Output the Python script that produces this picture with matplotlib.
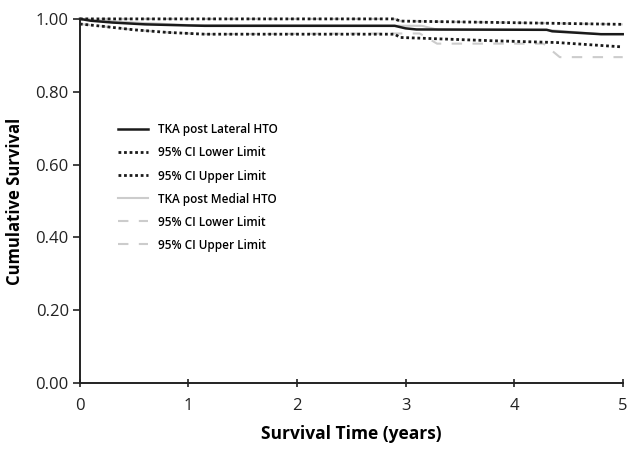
import matplotlib
matplotlib.use("Agg")
import matplotlib.pyplot as plt
from matplotlib.lines import Line2D

plt.rcParams['font.family'] = ['Open Sans', 'DejaVu Sans']

# Data (time in years, cumulative survival)
lat_t = [0.0, 0.1, 0.3, 0.6, 1.0, 1.15, 2.9, 3.0, 3.1, 4.3, 4.35, 4.8, 5.0]
lat_s = [1.000, 0.995, 0.990, 0.985, 0.982, 0.981, 0.981, 0.974, 0.971, 0.970, 0.966, 0.958, 0.958]

lat_lo_t = [0.0, 0.2, 0.5, 0.8, 1.15, 2.9, 2.95, 3.8, 4.4, 5.0]
lat_lo_s = [0.986, 0.980, 0.970, 0.963, 0.958, 0.958, 0.949, 0.940, 0.935, 0.923]

lat_hi_t = [0.0, 2.9, 2.95, 3.9, 5.0]
lat_hi_s = [1.000, 1.000, 0.994, 0.990, 0.985]

med_t = [0.0, 0.5, 1.0, 3.15, 3.3, 4.3, 4.8, 5.0]
med_s = [1.000, 0.990, 0.983, 0.981, 0.970, 0.970, 0.958, 0.958]

med_lo_t = [0.0, 0.2, 0.5, 0.8, 1.15, 3.0, 3.13, 3.29, 4.27, 4.42, 5.0]
med_lo_s = [0.986, 0.980, 0.970, 0.963, 0.958, 0.960, 0.960, 0.932, 0.932, 0.895, 0.895]

med_hi_t = [0.0, 2.9, 2.95, 3.9, 5.0]
med_hi_s = [1.000, 1.000, 0.994, 0.990, 0.985]

labels = ["TKA post Lateral HTO", "95% CI Lower Limit", "95% CI Upper Limit",
          "TKA post Medial HTO", "95% CI Lower Limit", "95% CI Upper Limit"]
x_ticks = [0, 1, 2, 3, 4, 5]
y_ticks = [0.0, 0.2, 0.4, 0.6, 0.8, 1.0]

fig = plt.figure(figsize=(6.29, 4.5), dpi=100)
ax = fig.add_axes([0.127, 0.149, 0.863, 0.809])

light = "#cccccc"
dark = "#1a1a1a"
dash = (0, (5, 5))
ax.plot(med_lo_t, med_lo_s, color=light, lw=1.5, ls=dash, clip_on=False)
ax.plot(med_hi_t, med_hi_s, color=light, lw=1.5, ls=dash, clip_on=False)
ax.plot(med_t, med_s, color=light, lw=1.5, clip_on=False)
ax.plot(lat_lo_t, lat_lo_s, color=dark, lw=2, ls=(0, (1, 1)), clip_on=False)
ax.plot(lat_hi_t, lat_hi_s, color=dark, lw=2, ls=(0, (1, 1)), clip_on=False)
ax.plot(lat_t, lat_s, color=dark, lw=1.8, clip_on=False)

ax.set_xlim(0, 5)
ax.set_ylim(0, 1.0)
ax.set_xticks(x_ticks)
ax.set_xticklabels([str(v) for v in x_ticks])
ax.set_yticks(y_ticks)
ax.set_yticklabels([f"{v:.2f}" for v in y_ticks])

for s in ["top", "right"]:
    ax.spines[s].set_visible(False)
for s in ["left", "bottom"]:
    ax.spines[s].set_linewidth(1.4)
    ax.spines[s].set_color("#222222")

ax.tick_params(axis="y", direction="out", length=5, width=1.2, labelsize=12,
               colors="#222222", pad=3)
ax.tick_params(axis="x", direction="inout", length=6, width=1.2, labelsize=12,
               colors="#222222", pad=8)

ax.set_xlabel("Survival Time (years)", fontsize=12.5, fontweight="bold", labelpad=8)
ax.set_ylabel("Cumulative Survival", fontsize=12, fontweight="bold", labelpad=8)

handles = [
    Line2D([], [], color=dark, lw=1.8),
    Line2D([], [], color=dark, lw=2, ls=(0, (1, 1))),
    Line2D([], [], color=dark, lw=2, ls=(0, (1, 1))),
    Line2D([], [], color=light, lw=1.5),
    Line2D([], [], color=light, lw=1.5, ls=dash),
    Line2D([], [], color=light, lw=1.5, ls=dash),
]
leg = ax.legend(handles, labels, loc="upper left", bbox_to_anchor=(0.050, 0.742),
                frameon=False, handlelength=2.6, handletextpad=0.85,
                labelspacing=0.85, prop={"size": 8.5, "weight": "semibold"})

fig.savefig("out.png", dpi=100)
